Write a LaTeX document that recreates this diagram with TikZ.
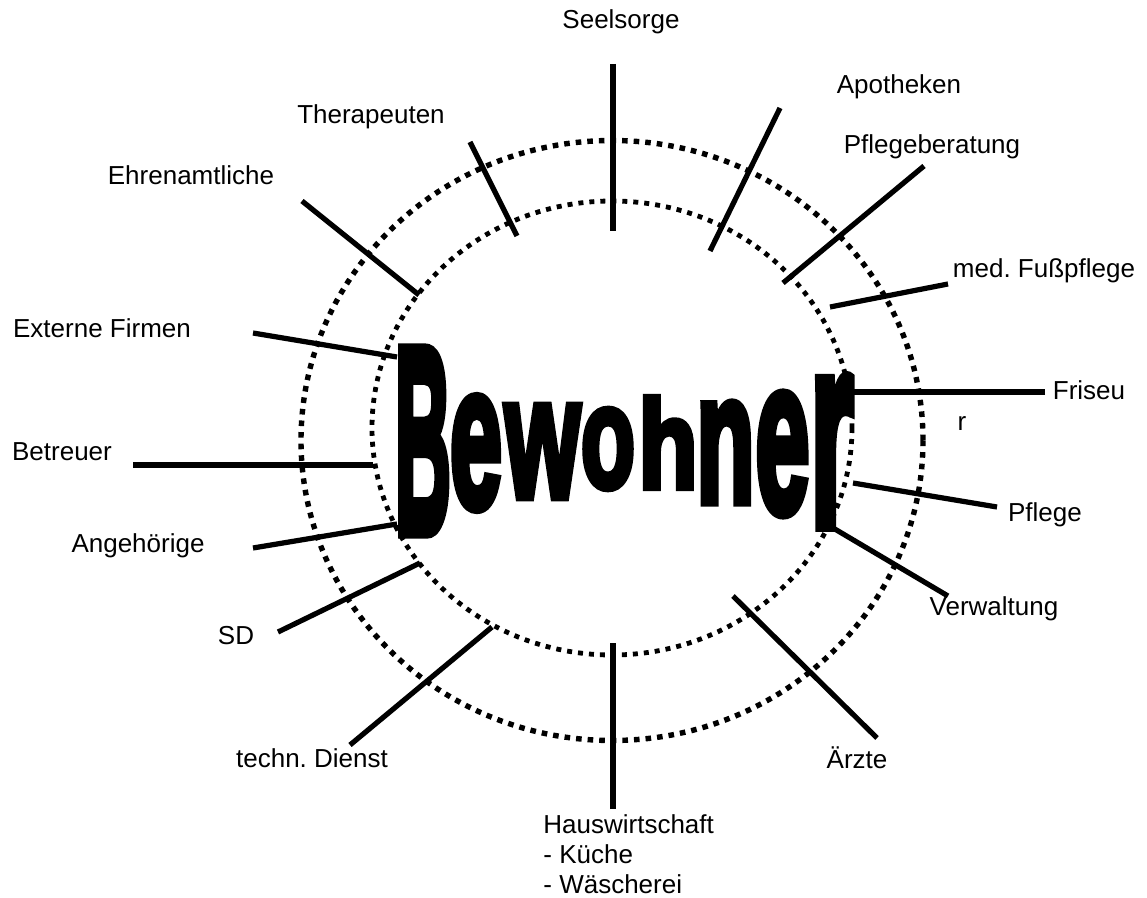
\documentclass[tikz,border=0pt]{standalone}
\usepackage{fontspec}
\usepackage{graphicx}
\setmainfont{Liberation Sans}
\newfontfamily\bwfont[FakeBold=5]{Liberation Sans Bold}
\newcommand{\bwletter}[3]{\resizebox{#1pt}{#2pt}{\bwfont #3}}
\tikzset{
  lbl/.style={font=\fontsize{13}{15}\selectfont, inner sep=0pt, anchor=mid},
  spoke/.style={line width=2.6pt},
  ring/.style={line width=2.7pt, dash pattern=on 2.8pt off 3pt},
  innerring/.style={line width=2.4pt, dash pattern=on 2.5pt off 3pt},
  letter/.style={inner sep=0pt}
}
\begin{document}
\begin{tikzpicture}[x=0.5pt,y=-0.5pt]
  \useasboundingbox (0,0) rectangle (1147,898);
  \draw[ring] (612,440.5) ellipse [x radius=311, y radius=300];
  \draw[innerring] (612,428) ellipse [x radius=240, y radius=227];

  \node[letter] (b1) at (423,441) {\bwletter{28}{91}{B}};
  \node[letter] (b2) at (476,453) {\bwletter{26}{55}{e}};
  \node[letter] (b3) at (542.5,451.5) {\bwletter{37.5}{45.5}{w}};
  \node[letter] (b4) at (608,449) {\bwletter{27}{39}{o}};
  \node[letter] (b5) at (668,442.5) {\bwletter{29.5}{45.5}{h}};
  \node[letter] (b6) at (725.5,452.5) {\bwletter{29}{49.5}{n}};
  \node[letter] (b7) at (782.5,454) {\bwletter{27}{59}{e}};
  \node[letter] (b8) at (832,451.5) {\bwletter{21.5}{73.5}{r}};

  \node[lbl] (seelsorge) at (621,23) {Seelsorge};
  \node[lbl] (therapeuten) at (371,118) {Therapeuten};
  \node[lbl] (apotheken) at (899,88) {Apotheken};
  \node[lbl] (pflegeberatung) at (932,148) {Pflegeberatung};
  \node[lbl] (fusspflege) at (1044,272) {med.\ Fußpflege};
  \node[lbl] (friseur) at (1089,394) {Friseu};
  \node[lbl] (friseur2) at (962,425) {r};
  \node[lbl] (pflege) at (1045,516) {Pflege};
  \node[lbl] (verwaltung) at (994,610) {Verwaltung};
  \node[lbl] (aerzte) at (857,763) {Ärzte};
  \node[lbl, anchor=north west, align=left] (hauswirtschaft) at (543,814)
    {Hauswirtschaft\\- Küche\\- Wäscherei};
  \node[lbl] (technik) at (312,762) {techn.\ Dienst};
  \node[lbl] (sd) at (236,639) {SD};
  \node[lbl] (angehoerige) at (138,547) {Angehörige};
  \node[lbl] (betreuer) at (62,455) {Betreuer};
  \node[lbl] (externe) at (102,332) {Externe Firmen};
  \node[lbl] (ehrenamt) at (191,179) {Ehrenamtliche};

  \coordinate (seel-out) at (613,64);   \coordinate (seel-in) at (613,231);
  \coordinate (apo-out) at (780,108);   \coordinate (apo-in) at (710,251);
  \coordinate (pfb-out) at (924,166);   \coordinate (pfb-in) at (783,283);
  \coordinate (fuss-out) at (948,284);  \coordinate (fuss-in) at (830,307);
  \coordinate (fris-out) at (1045,392); \coordinate (fris-in) at (853,392);
  \coordinate (pfl-out) at (997,507);   \coordinate (pfl-in) at (853,483);
  \coordinate (verw-out) at (948,596);  \coordinate (verw-in) at (828,525);
  \coordinate (arzt-out) at (877,738);  \coordinate (arzt-in) at (733,596);
  \coordinate (haus-out) at (613,809);  \coordinate (haus-in) at (613,643);
  \coordinate (tech-out) at (350,745);  \coordinate (tech-in) at (492,627);
  \coordinate (sd-out) at (278,632);    \coordinate (sd-in) at (420,563);
  \coordinate (ange-out) at (253,548);  \coordinate (ange-in) at (397,524);
  \coordinate (betr-out) at (133,465);  \coordinate (betr-in) at (373,465);
  \coordinate (ext-out) at (253,333);   \coordinate (ext-in) at (397,357);
  \coordinate (ehr-out) at (302,201);   \coordinate (ehr-in) at (419,295);
  \coordinate (ther-out) at (470,142);  \coordinate (ther-in) at (517,236);

  \draw[spoke] (seel-out) -- (seel-in);
  \draw[spoke] (apo-out) -- (apo-in);
  \draw[spoke] (pfb-out) -- (pfb-in);
  \draw[spoke] (fuss-out) -- (fuss-in);
  \draw[spoke] (fris-out) -- (fris-in);
  \draw[spoke] (pfl-out) -- (pfl-in);
  \draw[spoke] (verw-out) -- (verw-in);
  \draw[spoke] (arzt-out) -- (arzt-in);
  \draw[spoke] (haus-out) -- (haus-in);
  \draw[spoke] (tech-out) -- (tech-in);
  \draw[spoke] (sd-out) -- (sd-in);
  \draw[spoke] (ange-out) -- (ange-in);
  \draw[spoke] (betr-out) -- (betr-in);
  \draw[spoke] (ext-out) -- (ext-in);
  \draw[spoke] (ehr-out) -- (ehr-in);
  \draw[spoke] (ther-out) -- (ther-in);
\end{tikzpicture}
\end{document}
